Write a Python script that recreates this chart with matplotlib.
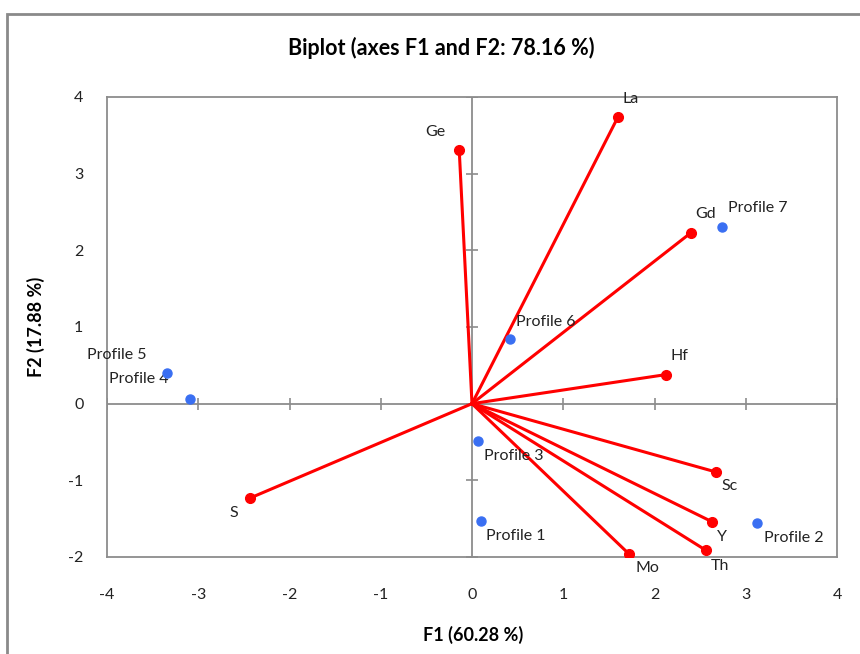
import matplotlib
matplotlib.use("Agg")
import matplotlib.pyplot as plt
from matplotlib.patches import Rectangle
import numpy as np

plt.rcParams['font.family'] = ['Lato', 'DejaVu Sans']

# Variables (red vectors)
var_names = ["La", "Ge", "Gd", "Hf", "Sc", "Y", "Th", "Mo", "S"]
var_f1 = [1.60, -0.14, 2.40, 2.13, 2.67, 2.63, 2.56, 1.72, -2.43]
var_f2 = [3.74, 3.31, 2.23, 0.38, -0.89, -1.54, -1.91, -1.96, -1.23]

# Observations (blue points)
obs_names = ["Profile 1", "Profile 2", "Profile 3", "Profile 4", "Profile 5", "Profile 6", "Profile 7"]
obs_f1 = [0.10, 3.12, 0.07, -3.09, -3.34, 0.42, 2.74]
obs_f2 = [-1.53, -1.56, -0.49, 0.06, 0.40, 0.84, 2.31]

x_ticks = [-4, -3, -2, -1, 0, 1, 2, 3, 4]
y_ticks = [-2, -1, 0, 1, 2, 3, 4]

title = "Biplot (axes F1 and F2: 78.16 %)"
xlabel = "F1 (60.28 %)"
ylabel = "F2 (17.88 %)"

# label offsets in pixels (dx, dy, ha)
var_off = {"La": (13, 18, "center"), "Ge": (-24, 18, "center"), "Gd": (15, 19, "center"),
           "Hf": (13, 19, "center"), "Sc": (14, -14, "center"), "Y": (10, -15, "center"),
           "Th": (14, -16, "center"), "Mo": (18, -14, "center"), "S": (-16, -15, "center")}
obs_off = {"Profile 1": (5, -15), "Profile 2": (7, -15), "Profile 3": (6, -15),
           "Profile 4": (-81, 20), "Profile 5": (-80, 18), "Profile 6": (6, 17),
           "Profile 7": (6, 19)}

W, H = 860, 654
fig = plt.figure(figsize=(W / 100, H / 100), dpi=100)
ax = fig.add_axes([107 / W, 97 / H, 730 / W, 460 / H])

gray = "#8c8c8c"
ax.set_xlim(-4, 4)
ax.set_ylim(-2, 4)
for sp in ax.spines.values():
    sp.set_color(gray)
    sp.set_linewidth(1.3)

ax.axhline(0, color=gray, lw=1.3, zorder=1)
ax.axvline(0, color=gray, lw=1.3, zorder=1)
ax.plot(x_ticks, np.zeros(len(x_ticks)), linestyle='none', marker='|', markersize=8,
        markeredgewidth=1.2, color=gray, zorder=1)
ax.plot(np.zeros(len(y_ticks)), y_ticks, linestyle='none', marker='_', markersize=8,
        markeredgewidth=1.2, color=gray, zorder=1)

ax.set_xticks(x_ticks)
ax.set_yticks(y_ticks)
ax.set_xticklabels([str(t) for t in x_ticks])
ax.set_yticklabels([str(t) for t in y_ticks])
ax.tick_params(axis='x', length=0, pad=22, labelsize=11.5, colors="#222222")
ax.tick_params(axis='y', length=0, pad=17, labelsize=11.5, colors="#222222")

red = "#ff0000"
for n, x, y in zip(var_names, var_f1, var_f2):
    ax.plot([0, x], [0, y], color=red, lw=2.2, zorder=3)
ax.plot(var_f1, var_f2, linestyle='none', marker='o', markersize=7, color=red, zorder=4)
for n, x, y in zip(var_names, var_f1, var_f2):
    dx, dy, ha = var_off[n]
    ax.annotate(n, (x, y), xytext=(dx, dy), textcoords='offset pixels', ha=ha, va='center',
                fontsize=11.5, color="#222222")

blue = "#3a6ff2"
ax.plot(obs_f1, obs_f2, linestyle='none', marker='o', markersize=6.5, color=blue, zorder=5)
for n, x, y in zip(obs_names, obs_f1, obs_f2):
    dx, dy = obs_off[n]
    ax.annotate(n, (x, y), xytext=(dx, dy), textcoords='offset pixels', ha='left', va='center',
                fontsize=11.5, color="#222222", annotation_clip=False)

fig.text(441 / W, 1 - 48 / H, title, ha='center', va='center', fontsize=15.5, fontweight='bold')
fig.text(473 / W, 1 - 635 / H, xlabel, ha='center', va='center', fontsize=13, fontweight='bold')
fig.text(36 / W, 1 - 327 / H, ylabel, ha='center', va='center', fontsize=13, fontweight='bold',
         rotation=90)

fig.patches.append(Rectangle((7 / W, -0.1), 1.2, 1 - 14 / H + 0.1, transform=fig.transFigure,
                             fill=False, edgecolor="#8a8a8a", linewidth=2))

fig.savefig("out.png", dpi=100)
